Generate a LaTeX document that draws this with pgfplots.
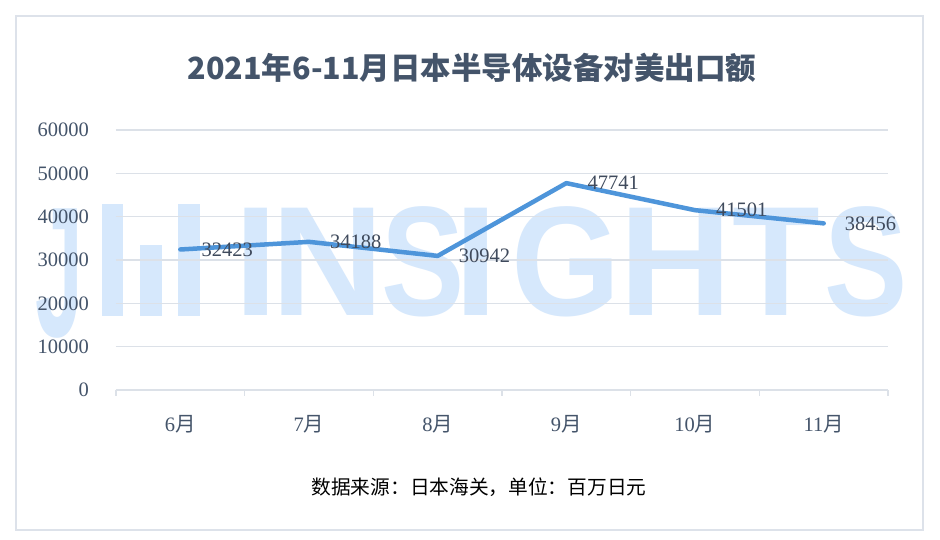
\documentclass[border=0pt]{standalone}
\usepackage{pgfplots}
\pgfplotsset{compat=1.18}
\usepackage{fontspec}
\setmainfont{Liberation Serif}
\newfontfamily\cjk{Noto Sans CJK SC}
\newfontfamily\wmfont{Liberation Sans}
\definecolor{txt}{HTML}{44546A}
\definecolor{lbl}{HTML}{3F4A5C}
\definecolor{gridc}{HTML}{DCE1E8}
\definecolor{linec}{HTML}{4E95DA}
\definecolor{wm}{HTML}{D6E8FC}
\definecolor{frame}{HTML}{DDE2EA}
\begin{document}
\begin{tikzpicture}[x=1pt,y=1pt]
% page
\path[fill=white,use as bounding box] (-116,-150) rectangle (824,390);
\draw[frame,line width=2pt] (-100,373.5) rectangle (807,-140);
% title
\node[font=\cjk\bfseries\fontsize{30.5}{34}\selectfont,text=txt] at (356,322) {2021年6-11月日本半导体设备对美出口额};
% caption
\node[font=\cjk\fontsize{19.7}{24}\selectfont,text=black] at (363,-97) {数据来源：日本海关，单位：百万日元};
% watermark
\begin{scope}[every node/.style={font=\wmfont\bfseries\fontsize{156}{156}\selectfont,text=wm,inner sep=0pt,anchor=base,transform shape}]
\node[xscale=0.55,yscale=1.19] at (-57,53) {J};
\fill[wm] (-14,74) rectangle (7,186);
\fill[wm] (24,74) rectangle (46,145);
\fill[wm] (62,74) rectangle (84,186);
\node at (140,74) {I};
\node at (212,74) {N};
\node[xscale=0.8] at (307,74) {S};
\node at (360,74) {I};
\node[xscale=0.9] at (450,74) {G};
\node at (560,74) {H};
\node[xscale=0.92] at (660,74) {T};
\node[xscale=0.8] at (750,74) {S};
\end{scope}
\begin{axis}[
  at={(0,0)}, anchor=south west,
  scale only axis, width=772pt, height=260pt,
  xmin=-0.5, xmax=5.5, ymin=0, ymax=60000,
  ytick={0,10000,...,60000},
  scaled y ticks=false,
  xtick={0,...,5},
  xticklabels={6{\cjk 月},7{\cjk 月},8{\cjk 月},9{\cjk 月},10{\cjk 月},11{\cjk 月}},
  minor xtick={-0.5,0.5,...,5.5},
  axis line style={draw=none},
  ymajorgrids,
  major grid style={gridc,line width=1.5pt},
  major tick length=0pt, minor tick length=6pt,
  tick align=outside, tick pos=left,
  major tick style={draw=none},
  minor tick style={gridc,line width=1.5pt},
  ticklabel style={font=\fontsize{20.5}{24}\selectfont,text=txt,inner sep=0pt},
  yticklabel style={anchor=east,xshift=-27pt},
  xticklabel style={anchor=base,yshift=-42pt},
  /pgf/number format/1000 sep={},
  /pgf/number format/assume math mode=true,
  clip=false,
]
\addplot[linec,line width=4.5pt,line cap=round,line join=round,
  point meta=explicit symbolic,
  nodes near coords,
  nodes near coords style={anchor=west,xshift=19pt,inner sep=0pt,font=\fontsize{20.5}{24}\selectfont,text=lbl}]
  coordinates {(0,32423)[32423] (1,34188)[34188] (2,30942)[30942] (3,47741)[47741] (4,41501)[41501] (5,38456)[38456]};
\end{axis}
\end{tikzpicture}
\end{document}
